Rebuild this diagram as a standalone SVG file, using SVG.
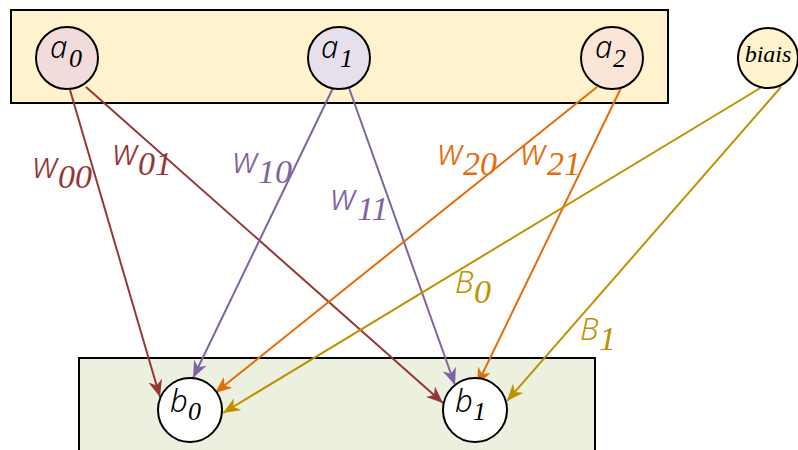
<svg xmlns="http://www.w3.org/2000/svg" width="798" height="450" viewBox="0 0 798 450">
<style>
.box{stroke:#000;stroke-width:2}
.node{stroke:#000;stroke-width:2}
.m{font-family:"Noto Sans","DejaVu Sans",sans-serif;font-style:italic;font-weight:350}
.s{font-family:"Liberation Serif",serif;font-style:italic}
.e{fill:none;stroke-width:2}
.c0{stroke:#953735}.c1{stroke:#8064a2}.c2{stroke:#e46c0a}.cb{stroke:#bf9000}
.t0{fill:#953735}.t1{fill:#8064a2}.t2{fill:#e46c0a}.tb{fill:#bf9000}
</style>
<defs>
<marker id="h0" markerUnits="userSpaceOnUse" markerWidth="18" markerHeight="14" refX="17" refY="7" orient="auto"><path d="M0,0 L17,7 L0,14 L5,7 z" fill="#953735"/></marker>
<marker id="h1" markerUnits="userSpaceOnUse" markerWidth="18" markerHeight="14" refX="17" refY="7" orient="auto"><path d="M0,0 L17,7 L0,14 L5,7 z" fill="#8064a2"/></marker>
<marker id="h2" markerUnits="userSpaceOnUse" markerWidth="18" markerHeight="14" refX="17" refY="7" orient="auto"><path d="M0,0 L17,7 L0,14 L5,7 z" fill="#e46c0a"/></marker>
<marker id="hb" markerUnits="userSpaceOnUse" markerWidth="18" markerHeight="14" refX="17" refY="7" orient="auto"><path d="M0,0 L17,7 L0,14 L5,7 z" fill="#bf9000"/></marker>
</defs>
<g id="layer-in"><rect class="box" x="11" y="10" width="657" height="93" fill="#fff2cc"/></g>
<g id="layer-out"><rect class="box" x="79" y="358" width="516" height="100" fill="#ebf1de"/></g>
<g id="connectors">
<line class="e c0" x1="70" y1="90" x2="160" y2="397" marker-end="url(#h0)"/>
<line class="e c0" x1="86" y1="87" x2="443" y2="403" marker-end="url(#h0)"/>
<line class="e c1" x1="333" y1="88" x2="193" y2="378" marker-end="url(#h1)"/>
<line class="e c1" x1="349" y1="88" x2="455" y2="385" marker-end="url(#h1)"/>
<line class="e c2" x1="597" y1="87" x2="215" y2="393" marker-end="url(#h2)"/>
<line class="e c2" x1="621" y1="88" x2="477" y2="385" marker-end="url(#h2)"/>
<line class="e cb" x1="762" y1="87" x2="223" y2="413" marker-end="url(#hb)"/>
<line class="e cb" x1="781" y1="87" x2="507" y2="401" marker-end="url(#hb)"/>
<text class="t0"><tspan class="m" x="33" y="178" font-size="36">w</tspan><tspan class="s" x="58" y="188" font-size="34">00</tspan></text>
<text class="t0"><tspan class="m" x="113" y="165" font-size="36">w</tspan><tspan class="s" x="138" y="175" font-size="34">01</tspan></text>
<text class="t1"><tspan class="m" x="233" y="173" font-size="36">w</tspan><tspan class="s" x="258" y="183" font-size="34">10</tspan></text>
<text class="t1"><tspan class="m" x="331" y="210" font-size="36">w</tspan><tspan class="s" x="357" y="220" font-size="34">11</tspan></text>
<text class="t2"><tspan class="m" x="438" y="165" font-size="36">w</tspan><tspan class="s" x="463" y="175" font-size="34">20</tspan></text>
<text class="t2"><tspan class="m" x="521" y="165" font-size="36">w</tspan><tspan class="s" x="547" y="175" font-size="34">21</tspan></text>
<text class="tb"><tspan class="m" x="455" y="293" font-size="31">B</tspan><tspan class="s" x="474" y="303" font-size="34">0</tspan></text>
<text class="tb"><tspan class="m" x="580" y="340" font-size="31">B</tspan><tspan class="s" x="599" y="350" font-size="34">1</tspan></text>
</g>
<g id="a0"><circle class="node" cx="67" cy="58" r="31" fill="#f2dcdb"/><text><tspan class="m" x="50" y="58" font-size="31">a</tspan><tspan class="s" x="69" y="67" font-size="26">0</tspan></text></g>
<g id="a1"><circle class="node" cx="339" cy="58" r="31" fill="#e6e0ec"/><text><tspan class="m" x="321" y="58" font-size="31">a</tspan><tspan class="s" x="340" y="67" font-size="26">1</tspan></text></g>
<g id="a2"><circle class="node" cx="612" cy="58" r="31" fill="#fbe5d6"/><text><tspan class="m" x="595" y="58" font-size="31">a</tspan><tspan class="s" x="613" y="67" font-size="26">2</tspan></text></g>
<g id="biais"><circle class="node" cx="768" cy="58" r="30" fill="#fff2cc"/><text class="s" x="768" y="62" font-size="24" text-anchor="middle">biais</text></g>
<g id="b0"><circle class="node" cx="190" cy="410" r="32" fill="#ffffff"/><text><tspan class="m" x="170" y="412" font-size="31">b</tspan><tspan class="s" x="188" y="420" font-size="26">0</tspan></text></g>
<g id="b1"><circle class="node" cx="475" cy="410" r="32" fill="#ffffff"/><text><tspan class="m" x="455" y="412" font-size="31">b</tspan><tspan class="s" x="473" y="420" font-size="26">1</tspan></text></g>
</svg>
